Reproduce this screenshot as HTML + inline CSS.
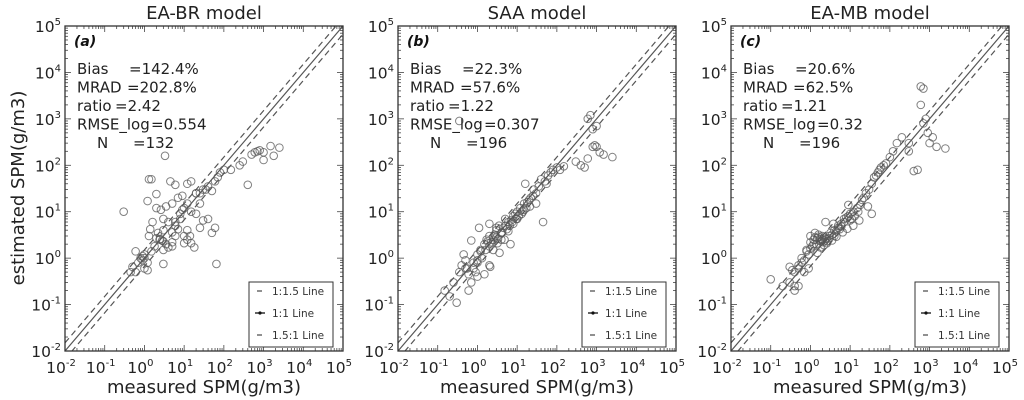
<!DOCTYPE html>
<html><head><meta charset="utf-8">
<style>
html,body{margin:0;padding:0;background:#fff;}
svg{display:block;font-family:"DejaVu Sans","Liberation Sans",sans-serif;}
</style></head>
<body>
<svg id="chart" width="1024" height="400" viewBox="0 0 1024 400" xmlns="http://www.w3.org/2000/svg">
<text x="24" y="188" font-size="18" fill="#222" text-anchor="middle" transform="rotate(-90 24 188)">estimated SPM(g/m3)</text>
</svg>
<script>
// ---- data ----
const panelTitles = ["EA-BR model","SAA model","EA-MB model"];
const panelTags = ["(a)","(b)","(c)"];
const statLabels = ["Bias","MRAD","ratio","RMSE_log","N"];
const statsA = ["=142.4%","=202.8%","=2.42","=0.554","=132"];
const statsB = ["=22.3%","=57.6%","=1.22","=0.307","=196"];
const statsC = ["=20.6%","=62.5%","=1.21","=0.32","=196"];
const tickExps = [-2,-1,0,1,2,3,4,5];
const legendLabels = ["1:1.5 Line","1:1 Line","1.5:1 Line"];
const ratioFactor = 1.5;

const xA = [0.3,3.3,1.3,1.5,1.2,2,4.5,6,1.4,2,2.6,3.5,5,7,9,12,15,20,25,3,4,6,8,12,14,18,15,10,30,40,50,60,65,3,1,1.2,0.5,0.6,0.8,0.9,1,1.5,2,2.5,3,4,5,6,3,5,7,10,12,20,30,40,50,60,70,80,100,150,300,250,400,600,700,800,1000,1500,2500,1800,1000,500,3,1.8,2.2,1,1.2,0.9,0.7,0.45,25,35,15,8,9,6,2.4,2.8,20,25,0.6,1.3,1.6,3.5,5,10,12];
const yA = [10,160,50,50,17,24,45,38,4.2,12,11,13,15,20,22,40,45,25,15,7,6,5,7,4,3,1.7,2.1,2.1,6.5,7,3.5,4.5,0.75,0.75,0.6,0.55,0.65,1.4,1,0.9,1.2,1.4,2.7,2.6,1.5,1.7,2.2,3,4,3.6,4.2,12,15,25,30,35,28,45,55,70,80,80,120,100,38,190,200,210,190,260,240,160,130,170,2.3,1.8,3.5,1,0.8,1.1,0.8,0.5,25,30,10,9,11,6,2.5,2.4,9,4.5,0.5,3,6,2,1.8,3,2.5];

const xB = [0.15,0.2,0.3,0.25,0.35,0.4,0.5,0.5,0.6,0.6,0.7,0.8,0.9,1,1,1.2,1.3,1.5,1.5,1.7,2,2,2.2,2.5,2.5,2.8,3,3,3.2,3.5,4,4,4.5,5,5,6,6,7,8,8,9,10,10,12,13,15,15,18,20,22,25,30,30,35,40,50,60,70,80,100,120,150,0.8,1,1.2,1.8,2.3,2.7,3.3,4.2,5.5,6.5,7.5,9.5,11,14,17,21,26,2,1.1,0.7,0.45,0.55,1.6,2.1,3.6,4.8,6.8,16,300,400,500,600,700,800,900,1000,1200,1500,2500,600,800,1000,0.35,1,2,3,45,55];
const yB = [0.2,0.15,0.11,0.3,0.5,0.7,0.6,0.9,0.2,0.45,0.3,0.8,0.5,1.2,0.4,1.5,1,2,0.45,2.5,3,1.8,2.2,2.5,1.5,3,2.8,4,2.1,5,3.5,2.5,4.5,5,7,6,3.8,6.5,8,5.5,9,10,7,12,9,15,11,16,18,20,22,25,15,35,50,45,60,70,80,90,80,95,0.6,0.9,1.4,2.3,2,3.2,2.6,3.6,4.2,5,6,7,8,10,12,13,30,5.5,4.5,2.4,1.2,0.6,1.5,0.65,1.3,2.5,2,40,120,100,90,1000,1200,250,270,250,190,170,150,140,600,700,900,0.8,0.7,4.5,6,40,100];

const xC = [0.1,0.2,0.3,0.3,0.4,0.5,0.6,0.7,0.8,0.9,1,1,1.1,1.2,1.3,1.4,1.5,1.6,1.7,1.8,1.9,2,2,2.1,2.2,2.3,2.5,2.7,3,3,3.2,3.5,4,4,4.5,5,5,5.5,6,6,7,7,8,9,10,10,11,12,13,15,16,18,20,22,25,30,35,40,45,50,55,60,70,80,100,120,150,200,300,0.5,0.6,0.8,1,1.2,1.5,1.8,2.2,2.6,3.5,4.5,6.5,8.5,12,17,28,35,0.9,0.7,0.35,0.4,600,700,600,800,900,1000,1200,1500,2500,700,500,400,300,0.4,0.5,1.3,2.4,3.8,1.6,9];
const yC = [0.35,0.25,0.3,0.65,0.5,0.7,1,0.9,1.4,1.2,3,2.2,1.8,2.5,2.8,2,2.7,3.2,2.4,2.6,2.3,2.5,3,2.2,2.8,2.4,2.6,2.3,3,2.7,3.5,3.2,4,3,3.8,4.5,5,4.2,5.5,4.8,6,7,7.5,8,9,6.5,7,10,8,12,10,14,18,20,25,30,40,55,60,70,80,90,100,110,150,200,300,400,300,0.6,0.8,1.5,1.6,2,1.3,1.7,1.9,2.1,2.4,2.9,3.6,4.3,5,6.5,13,9,0.6,0.5,0.55,0.25,5000,4500,2000,1000,500,300,400,250,230,800,80,75,200,0.2,0.25,3.5,6,5.5,2.9,14];

// ---- layout ----
const svg = document.getElementById('chart');
const NS = 'http://www.w3.org/2000/svg';
const panelLefts = [65,398,731];
const PW = 278, PT = 26, PB = 351;
function mk(tag, attrs, parent){const e=document.createElementNS(NS,tag);for(const k in attrs)e.setAttribute(k,attrs[k]);(parent||svg).appendChild(e);return e;}

const allX=[xA,xB,xC], allY=[yA,yB,yC], allStats=[statsA,statsB,statsC];
const eqOff=[64,62,50,86,68];
const labOff=[0,0,0,0,20];

for(let p=0;p<3;p++){
  const L=panelLefts[p], R=L+PW;
  const xs=v=>L+(Math.log10(v)+2)/7*PW;
  const ys=v=>PB-(Math.log10(v)+2)/7*(PB-PT);
  const g=mk('g',{});
  
  
  const t=mk('text',{x:(L+R)/2,y:19,'font-size':18,'text-anchor':'middle',fill:'#222'},g);
  t.textContent=panelTitles[p];
  
  
  for(let e=-2;e<=5;e++){
    for(let m=1;m<10;m++){
      if(e===5&&m>1)break;
      const v=m*Math.pow(10,e);
      const len=m===1?6:3;
      const X=xs(v),Y=ys(v);
      mk('line',{x1:X,y1:PB,x2:X,y2:PB-len,stroke:'#444','stroke-width':0.8},g);
      mk('line',{x1:X,y1:PT,x2:X,y2:PT+len,stroke:'#444','stroke-width':0.8},g);
      mk('line',{x1:L,y1:Y,x2:L+len,y2:Y,stroke:'#444','stroke-width':0.8},g);
      mk('line',{x1:R,y1:Y,x2:R-len,y2:Y,stroke:'#444','stroke-width':0.8},g);
    }
  }
  tickExps.forEach(e=>{
    const v=Math.pow(10,e);
    const tx=mk('text',{x:xs(v)-4,y:373,'font-size':15.5,'text-anchor':'middle',fill:'#222'},g);
    
    
    tx.innerHTML='10<tspan dy="-7" font-size="10">'+e+'</tspan>';
    const ty=mk('text',{x:L-4,y:ys(v)+6,'font-size':15.5,'text-anchor':'end',fill:'#222'},g);
    
    
    ty.innerHTML='10<tspan dy="-7" font-size="10">'+e+'</tspan>';
  });
  const lo=0.01, hi=1e5;
  const l1=mk('line',{x1:xs(lo),y1:ys(lo),x2:xs(hi),y2:ys(hi),stroke:'#555','stroke-width':1.2},g);
  
  
  const clip=mk('clipPath',{id:'clip'+p},g);
  mk('rect',{x:L,y:PT,width:PW,height:PB-PT},clip);
  const l2=mk('line',{x1:xs(lo),y1:ys(lo*ratioFactor),x2:xs(hi),y2:ys(hi*ratioFactor),stroke:'#555','stroke-width':1.2,'stroke-dasharray':'6,4','clip-path':'url(#clip'+p+')'},g);
  
  
  const l3=mk('line',{x1:xs(lo),y1:ys(lo/ratioFactor),x2:xs(hi),y2:ys(hi/ratioFactor),stroke:'#555','stroke-width':1.2,'stroke-dasharray':'6,4','clip-path':'url(#clip'+p+')'},g);
  
  
  const X=allX[p],Y=allY[p];
  for(let i=0;i<Math.min(X.length,Y.length);i++){
    const c=mk('circle',{cx:xs(X[i]),cy:ys(Y[i]),r:3.8,fill:'none',stroke:'#555','stroke-opacity':0.75,'stroke-width':1},g);
    
    
  }
  const fr=mk('rect',{x:L,y:PT,width:PW,height:PB-PT,fill:'none',stroke:'#333','stroke-width':1.3},g);
  
  
  const tg=mk('text',{x:L+9,y:46,'font-size':14,'font-weight':'bold','font-style':'italic',fill:'#111'},g);
  tg.textContent=panelTags[p];
  
  
  statLabels.forEach((s,i)=>{
    const yy=74+i*18.5;
    const a=mk('text',{x:L+12+labOff[i],y:yy,'font-size':15,fill:'#222'},g);
    a.textContent=s;
    
    
    const b=mk('text',{x:L+eqOff[i],y:yy,'font-size':15,fill:'#222'},g);
    b.textContent=allStats[p][i];
    
    
  });
  const lg=mk('g',{},g);
  
  
  mk('rect',{x:R-94,y:282,width:84,height:65,fill:'#fff',stroke:'#333','stroke-width':1},lg);
  legendLabels.forEach((s,i)=>{
    const yy=291+i*22;
    if(i===1){
      mk('line',{x1:R-88,y1:yy,x2:R-78,y2:yy,stroke:'#111','stroke-width':1.3},lg);
      mk('circle',{cx:R-83,cy:yy,r:1.6,fill:'#111'},lg);
    } else {
      mk('line',{x1:R-86,y1:yy,x2:R-81,y2:yy,stroke:'#555','stroke-width':1.3},lg);
    }
    const lt=mk('text',{x:R-71,y:yy+4,'font-size':10.5,fill:'#333'},lg);
    lt.textContent=s;
    
    
  });
  const xl=mk('text',{x:(L+R)/2,y:393,'font-size':18,'text-anchor':'middle',fill:'#222'},g);
  xl.textContent='measured SPM(g/m3)';
  
  
}
</script>
</body></html>
